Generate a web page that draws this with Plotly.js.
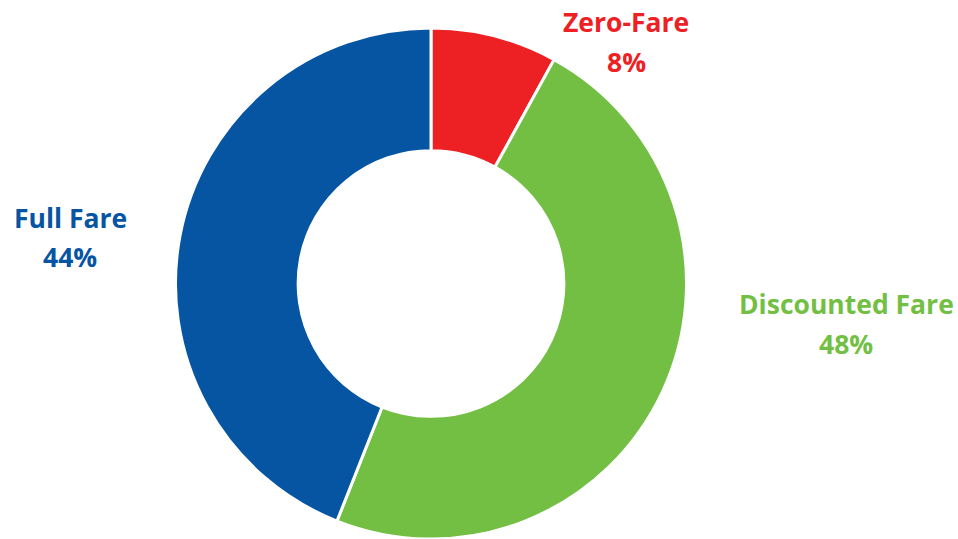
<!DOCTYPE html>
<html>
<head>
<meta charset="utf-8">
<script src="https://cdn.plot.ly/plotly-3.0.1.min.js"></script>
<style>html,body{margin:0;padding:0;background:#fff;}#chart{width:958px;height:539px;}</style>
</head>
<body>
<div id="chart"></div>
<script>
const categories = ["Zero-Fare", "Discounted Fare", "Full Fare"];
const shares = [8, 48, 44];
const colors = ["#ED2024", "#72BF44", "#0555A3"];
// label centre (x, y of name line, y of percent line) in pixels
const labelPositions = [[626, 22, 62], [846, 304, 344], [70, 218, 257]];

const W = 958, H = 539;
const trace = {
  type: "pie",
  labels: categories,
  values: shares,
  hole: 0.52,
  sort: false,
  direction: "clockwise",
  rotation: 0,
  textinfo: "none",
  hoverinfo: "label+percent",
  marker: { colors: colors, line: { color: "#ffffff", width: 3 } },
  domain: { x: [175 / W, 687 / W], y: [0, (H - 28) / H] },
  showlegend: false
};

const annotations = [];
categories.forEach((c, i) => {
  const font = { family: "'Open Sans', sans-serif", size: 26.5, color: colors[i], weight: 700 };
  annotations.push({
    xref: "paper", yref: "paper",
    x: labelPositions[i][0] / W, y: 1 - labelPositions[i][1] / H,
    xanchor: "center", yanchor: "middle",
    text: "<b>" + c + "</b>", showarrow: false, font: font
  });
  annotations.push({
    xref: "paper", yref: "paper",
    x: labelPositions[i][0] / W, y: 1 - labelPositions[i][2] / H,
    xanchor: "center", yanchor: "middle",
    text: "<b>" + shares[i] + "%</b>", showarrow: false, font: font
  });
});

Plotly.newPlot("chart", [trace], {
  width: W, height: H,
  margin: { l: 0, r: 0, t: 0, b: 0 },
  paper_bgcolor: "#ffffff",
  annotations: annotations
}, { displayModeBar: false, staticPlot: true });
</script>
</body>
</html>
